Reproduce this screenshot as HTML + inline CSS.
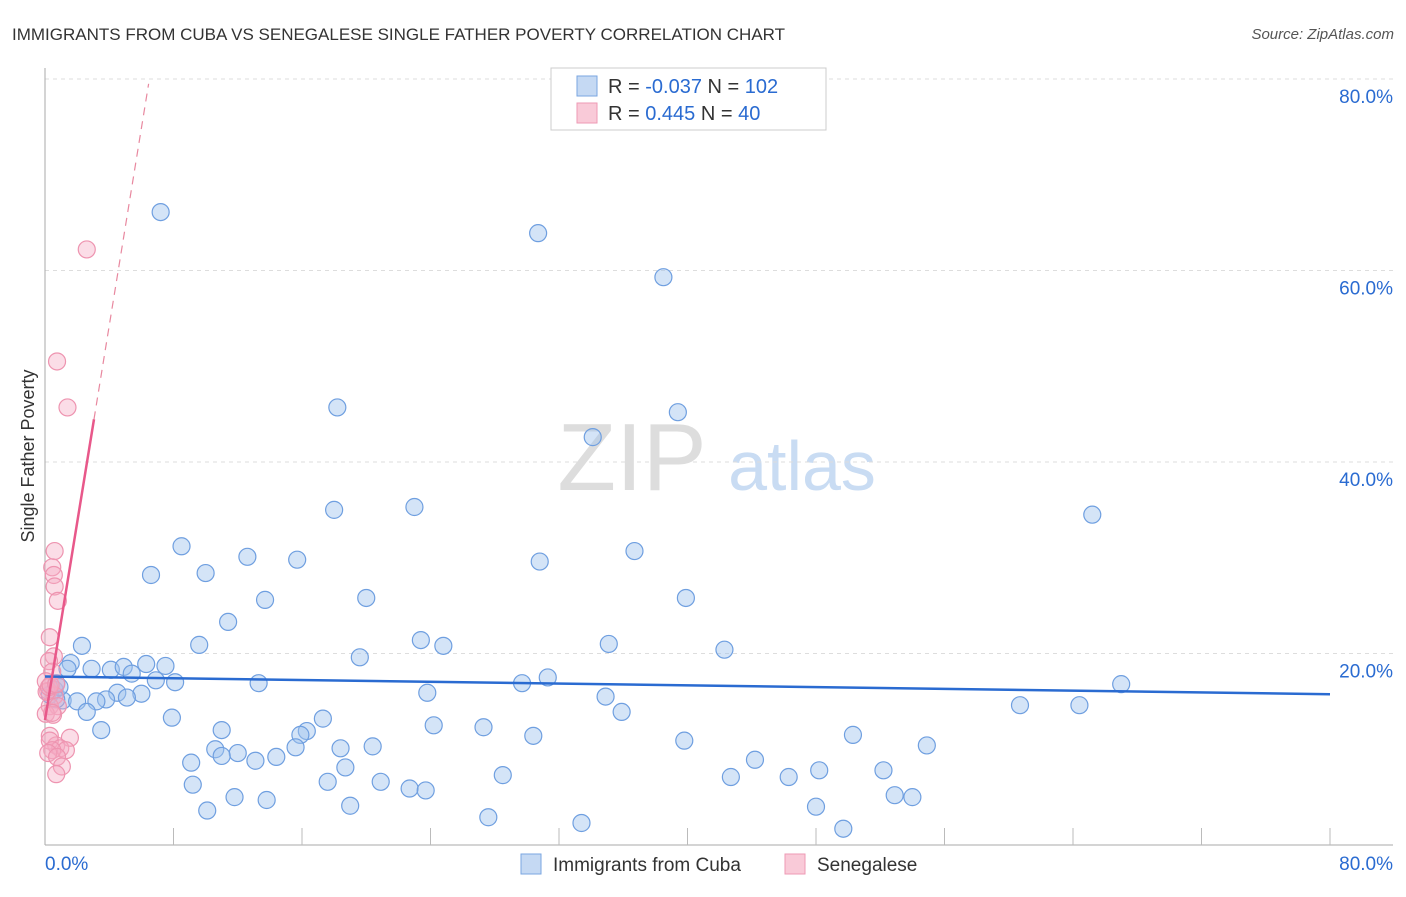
<!DOCTYPE html>
<html><head><meta charset="utf-8"><style>
body{margin:0;background:#fff;font-family:"Liberation Sans",sans-serif}
svg text{font-family:"Liberation Sans",sans-serif}
</style></head><body>
<svg id="chart" width="1406" height="892" xmlns="http://www.w3.org/2000/svg">
<text x="12" y="40" font-size="17" fill="#333">IMMIGRANTS FROM CUBA VS SENEGALESE SINGLE FATHER POVERTY CORRELATION CHART</text>
<text x="1394" y="39" font-size="15" fill="#555" text-anchor="end" font-style="italic">Source: ZipAtlas.com</text>
<g>
<text x="632" y="490" font-size="96" fill="#ddd" text-anchor="middle" font-family="Liberation Serif, serif">ZIP</text>
<text x="802" y="490" font-size="70" fill="#c9dcf3" text-anchor="middle">atlas</text>
</g>
<g id="grid"></g><g id="axes"></g><g id="pts"></g><g id="lines"></g>
<text transform="translate(34,456) rotate(-90)" font-size="18" fill="#333" text-anchor="middle">Single Father Poverty</text>
<g>
<rect x="551" y="68" width="275" height="62" fill="#fff" stroke="#ccc"/>
<rect x="577" y="76" width="20" height="20" fill="#c5d9f3" stroke="#7aa6e0"/>
<rect x="577" y="103" width="20" height="20" fill="#f9cad8" stroke="#ee9ab4"/>
<text x="608" y="93" font-size="20" fill="#333">R = <tspan fill="#2a6bd1">-0.037</tspan>   N = <tspan fill="#2a6bd1">102</tspan></text>
<text x="608" y="120" font-size="20" fill="#333">R =  <tspan fill="#2a6bd1"> 0.445</tspan>   N =  <tspan fill="#2a6bd1">40</tspan></text>
</g>
<g>
<rect x="521" y="854" width="20" height="20" fill="#c5d9f3" stroke="#7aa6e0"/>
<text x="553" y="871" font-size="19" fill="#333">Immigrants from Cuba</text>
<rect x="785" y="854" width="20" height="20" fill="#f9cad8" stroke="#ee9ab4"/>
<text x="817" y="871" font-size="19" fill="#333">Senegalese</text>
</g>
</svg>
<script>
const cubaX=[7.2,30.7,38.5,18.2,39.4,34.1,65.2,18,23,30.8,36.7,12.6,8.5,15.7,10,6.6,39.9,13.7,20,11.4,23.4,24.8,9.6,35.1,2.3,42.3,19.6,1.6,1.4,2.9,4.1,4.9,6.3,7.5,5.4,8.1,6.9,13.3,29.7,31.3,67,4.5,6,5.1,3.8,3.2,1.1,2,23.8,34.9,2.6,7.9,17.3,60.7,64.4,35.9,3.5,11,16.3,15.9,27.3,24.2,30.4,50.3,39.8,10.6,15.6,18.4,20.4,54.9,12,11,9.1,13.1,14.4,44.2,18.7,28.5,42.7,46.3,48.2,52.2,9.2,17.6,20.9,22.7,23.7,11.8,13.8,52.9,54,10.1,19,48,27.6,33.4,49.7,0.6,0.7,0.3,0.9,0.7];
const cubaY=[66.1,63.9,59.3,45.7,45.2,42.6,34.5,35,35.3,29.6,30.7,30.1,31.2,29.8,28.4,28.2,25.8,25.6,25.8,23.3,21.4,20.8,20.9,21,20.8,20.4,19.6,19,18.4,18.4,18.3,18.6,18.9,18.7,17.9,17,17.2,16.9,16.9,17.5,16.8,15.9,15.8,15.4,15.2,15,15.1,15,15.9,15.5,13.9,13.3,13.2,14.6,14.6,13.9,12,12,11.9,11.5,12.3,12.5,11.4,11.5,10.9,10,10.2,10.1,10.3,10.4,9.6,9.3,8.6,8.8,9.2,8.9,8.1,7.3,7.1,7.1,7.8,7.8,6.3,6.6,6.6,5.9,5.7,5.0,4.7,5.2,5.0,3.6,4.1,4,2.9,2.3,1.7,16.2,16.9,15.7,16.5,15.2];
const senX=[2.6,0.75,1.4,0.6,0.45,0.55,0.6,0.8,0.3,0.55,0.25,0.45,0.05,0.2,0.6,0.3,0.8,0.05,0.5,0.3,1.55,0.7,0.3,0.95,1.3,0.45,0.2,0.75,1.05,0.7,0.1,0.25,0.35,0.7,0.45];
const senY=[62.2,50.5,45.7,30.7,29,28.2,27,25.5,21.7,19.7,19.2,18.1,17.1,16.1,15.6,14.5,14.5,13.7,13.6,11.4,11.2,10.4,10.9,10.1,99.0,9.9,9.6,9.2,8.2,7.4,16,16.5,16.7,16.8,13.8];
senY[24]=9.9;
const xTicks=["0.0%","80.0%"];
const yTicks=[20,40,60,80];
const cubaLine=[17.6,15.75]; // y at x=0, x=80
const senLine=[13.05,10.3]; // intercept, slope
const ns="http://www.w3.org/2000/svg";
const X=v=>45+v*16.0625, Y=v=>845-v*9.575;
function mk(t,a,p){const e=document.createElementNS(ns,t);for(const k in a)e.setAttribute(k,a[k]);p.appendChild(e);return e;}
const grid=document.getElementById('grid'),axes=document.getElementById('axes'),pts=document.getElementById('pts'),lines=document.getElementById('lines');
yTicks.forEach(v=>{
const l=mk('line',{x1:45,x2:1393,y1:Y(v),y2:Y(v),stroke:'#ddd','stroke-dasharray':'4,4'},grid);


const t=mk('text',{x:1393,y:Y(v)+24,'font-size':19,fill:'#2a6bd1','text-anchor':'end'},axes);
t.textContent=v.toFixed(1)+'%';


});
mk('line',{x1:45,x2:45,y1:68,y2:845,stroke:'#aaa'},axes);
mk('line',{x1:45,x2:1393,y1:845,y2:845,stroke:'#aaa'},axes);
for(let i=1;i<=10;i++){const tk=mk('line',{x1:X(i*8),x2:X(i*8),y1:828,y2:845,stroke:'#bbb'},axes);

}
const xl0=mk('text',{x:45,y:870,'font-size':19,fill:'#2a6bd1'},axes);xl0.textContent=xTicks[0];


const xl1=mk('text',{x:1393,y:870,'font-size':19,fill:'#2a6bd1','text-anchor':'end'},axes);xl1.textContent=xTicks[1];


cubaX.forEach((v,i)=>{const c=mk('circle',{cx:X(v),cy:Y(cubaY[i]),r:8.5,fill:'rgba(160,196,238,0.45)',stroke:'#6f9fe0','stroke-width':1.2},pts);

});
senX.forEach((v,i)=>{const c=mk('circle',{cx:X(v),cy:Y(senY[i]),r:8.5,fill:'rgba(246,170,195,0.4)',stroke:'#ee94b0','stroke-width':1.2},pts);

});
const bl=mk('line',{x1:X(0),y1:Y(cubaLine[0]),x2:X(80),y2:Y(cubaLine[1]),stroke:'#2a6bd1','stroke-width':2.5},lines);


const xs=3.05,xe=(79.5-senLine[0])/senLine[1];
const pl=mk('line',{x1:X(0),y1:Y(senLine[0]),x2:X(xs),y2:Y(senLine[0]+senLine[1]*xs),stroke:'#e8588a','stroke-width':2.5},lines);


const pd=mk('line',{x1:X(xs),y1:Y(senLine[0]+senLine[1]*xs),x2:X(xe),y2:Y(79.5),stroke:'#e8889f','stroke-width':1.2,'stroke-dasharray':'8,6'},lines);


</script>
</body></html>
